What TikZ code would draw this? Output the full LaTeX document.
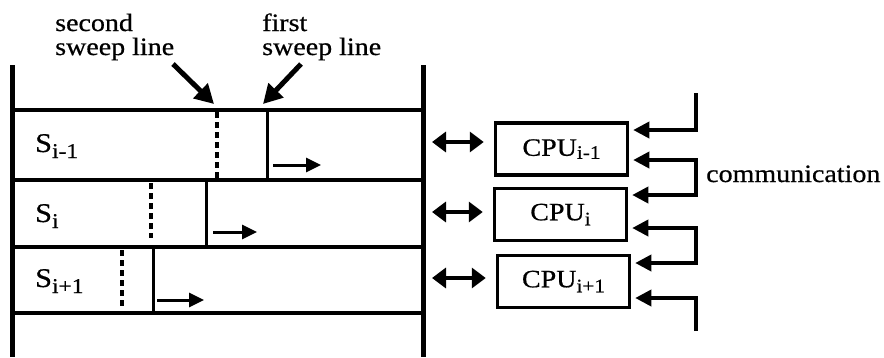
\documentclass[tikz,border=0pt]{standalone}
\usepackage{fontspec}
\setmainfont[FakeStretch=1.12,FakeBold=0.6]{Liberation Serif}
\usetikzlibrary{arrows.meta}
\newcommand{\lowsub}[3]{\raisebox{-#1}{\fontsize{#2}{#2}\selectfont #3}}
\begin{document}
\begin{tikzpicture}[x=1pt,y=-1pt,
  wall/.style={line width=5pt},
  sepline/.style={line width=4.5pt},
  sweepsolid/.style={line width=3pt},
  sweepdash/.style={line width=3.5pt, dash pattern=on 6pt off 4pt},
  mov/.style={line width=3pt,-{Triangle[length=15pt,width=14pt]}},
  callout/.style={line width=5pt,-{Triangle[length=19pt,width=20pt]}},
  dbl/.style={line width=4.5pt,{Triangle[length=14pt,width=20pt]}-{Triangle[length=14pt,width=20pt]}},
  cpubox/.style={draw,line width=3.5pt,minimum width=132pt,minimum height=52pt,inner sep=0pt,
    font=\fontsize{25}{25}\selectfont},
  comarr/.style={line width=3.5pt,-{Triangle[length=16pt,width=16pt]}},
  comdbl/.style={line width=3.5pt,{Triangle[length=16pt,width=16pt]}-{Triangle[length=16pt,width=16pt]}},
  txt/.style={font=\fontsize{25}{24}\selectfont,inner sep=0pt,align=left},
  slab/.style={font=\fontsize{27}{27}\selectfont,inner sep=0pt,anchor=base west}
]
\useasboundingbox (0,0) rectangle (884,357);

% walls
\coordinate (wlt) at (12,65);  \coordinate (wlb) at (12,357);
\coordinate (wrt) at (423,65); \coordinate (wrb) at (423,357);
\draw[wall] (wlt) -- (wlb);
\draw[wall] (wrt) -- (wrb);

% separator lines
\foreach \y/\n in {110/h0,180/h1,247/h2,313/h3}{
  \coordinate (\n l) at (10,\y); \coordinate (\n r) at (425,\y);
  \draw[sepline] (\n l) -- (\n r);
}

% row 1
\coordinate (d1t) at (217,112); \coordinate (d1b) at (217,180);
\coordinate (s1t) at (267,110); \coordinate (s1b) at (267,180);
\draw[sweepdash] (d1t) -- (d1b);
\draw[sweepsolid] (s1t) -- (s1b);
\coordinate (m1a) at (273,165); \coordinate (m1b) at (321,165);
\draw[mov] (m1a) -- (m1b);
\node[slab] (S1) at (35,152) {S\lowsub{6pt}{21}{i-1}};

% row 2
\coordinate (d2t) at (151,183); \coordinate (d2b) at (151,238);
\coordinate (s2t) at (206,180); \coordinate (s2b) at (206,247);
\draw[sweepdash] (d2t) -- (d2b);
\draw[sweepsolid] (s2t) -- (s2b);
\coordinate (m2a) at (213,232); \coordinate (m2b) at (257,232);
\draw[mov] (m2a) -- (m2b);
\node[slab] (S2) at (35,222) {S\lowsub{6pt}{21}{i}};

% row 3
\coordinate (d3t) at (122,250); \coordinate (d3b) at (122,306);
\coordinate (s3t) at (153,247); \coordinate (s3b) at (153,313);
\draw[sweepdash] (d3t) -- (d3b);
\draw[sweepsolid] (s3t) -- (s3b);
\coordinate (m3a) at (157,300); \coordinate (m3b) at (204,300);
\draw[mov] (m3a) -- (m3b);
\node[slab] (S3) at (35,287) {S\lowsub{6pt}{21}{i+1}};

% sweep line labels
\node[txt,anchor=base west] (lab2) at (55,55) {second\\sweep line};
\node[txt,anchor=base west] (lab1) at (262,55) {first\\sweep line};
\coordinate (c2s) at (173,64); \coordinate (c2e) at (214,104);
\coordinate (c1s) at (301,64); \coordinate (c1e) at (263,104);
\draw[callout] (c2s) -- (c2e);
\draw[callout] (c1s) -- (c1e);

% CPU boxes
\node[cpubox] (cpu1) at (561.5,149) {CPU\lowsub{3pt}{19}{i-1}};
\node[cpubox] (cpu2) at (560.5,214.5) {CPU\lowsub{5pt}{19}{i}};
\node[cpubox] (cpu3) at (563.5,281.5) {CPU\lowsub{5pt}{19}{i+1}};

% double arrows wall <-> CPU
\foreach \n/\y in {cpu1/142,cpu2/212,cpu3/278}{
  \coordinate (w\n) at (423,\y);
  \draw[dbl,shorten <=9pt,shorten >=10pt] (w\n) -- (\n.west |- w\n);
}

% communication
\coordinate (ct) at (696,93);
\coordinate (ct1) at (696,130);
\coordinate (b1a) at (696,160); \coordinate (b1b) at (696,195);
\coordinate (b2a) at (696,228); \coordinate (b2b) at (696,263);
\coordinate (cb1) at (696,298);
\coordinate (cb) at (696,331);
\draw[comarr,shorten >=4pt] (ct) -- (ct1) -- (cpu1.east |- ct1);
\draw[comdbl,shorten <=4pt,shorten >=4pt] (cpu1.east |- b1a) -- (b1a) -- (b1b) -- (cpu2.east |- b1b);
\draw[comdbl,shorten <=4pt,shorten >=4pt] (cpu2.east |- b2a) -- (b2a) -- (b2b) -- (cpu3.east |- b2b);
\draw[comarr,shorten >=4pt] (cb) -- (cb1) -- (cpu3.east |- cb1);
\node[txt,anchor=base west] (comm) at (706,182) {communication};
\end{tikzpicture}
\end{document}
